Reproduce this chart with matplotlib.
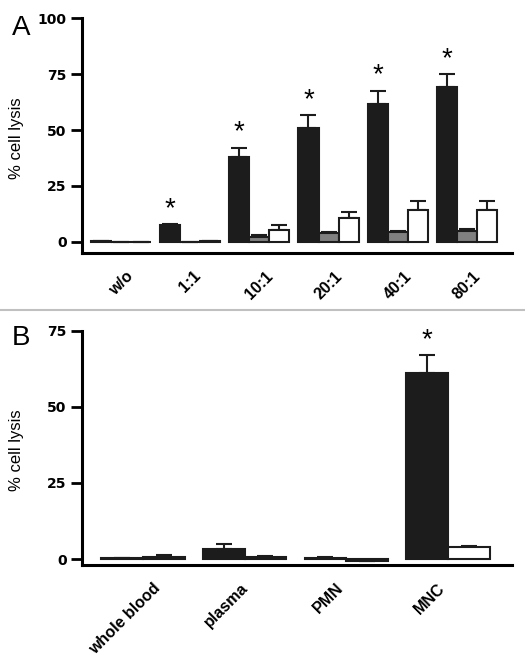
import numpy as np
import matplotlib.pyplot as plt
from matplotlib.lines import Line2D
from matplotlib.transforms import ScaledTranslation

plt.rcParams['font.family'] = ['Liberation Sans', 'DejaVu Sans']

# panel A data
ratios = ['w/o', '1:1', '10:1', '20:1', '40:1', '80:1']
black_a = [0.3, 7.5, 38, 51, 61.5, 69]
black_a_err = [0, 0.5, 4, 5.5, 6, 6]
grey_a = [0.2, 0.2, 2.3, 4, 4.5, 5]
grey_a_err = [0, 0, 0.6, 0.6, 0.6, 0.6]
white_a = [0.2, 0.3, 5.5, 10.5, 14.5, 14.5]
white_a_err = [0, 0, 2, 2.8, 3.7, 4]
star_a = [False, True, True, True, True, True]

# panel B data
sources = ['whole blood', 'plasma', 'PMN', 'MNC']
black_b = [0.3, 3.2, 0.5, 61]
black_b_err = [0.2, 1.6, 0.2, 6]
white_b = [0.8, 0.8, -0.5, 4]
white_b_err = [0.4, 0.3, 0, 0.4]
star_b = [False, False, False, True]

colors = ['#1c1c1c', '#808080', 'white']


def style_axes(ax, ticks, ylim):
    ax.set_ylim(ylim)
    ax.set_yticks(ticks)
    ax.spines['top'].set_visible(False)
    ax.spines['right'].set_visible(False)
    ax.spines['left'].set_linewidth(2.2)
    ax.spines['bottom'].set_linewidth(2.2)
    ax.spines['left'].set_bounds(ylim[0], ticks[-1])
    ax.tick_params(axis='y', length=8, width=2, direction='out', pad=3)
    ax.tick_params(axis='x', length=0, labelsize=11.5, pad=11)
    for lbl in ax.get_yticklabels():
        lbl.set_fontfamily('DejaVu Sans')
        lbl.set_fontweight('bold')
        lbl.set_fontsize(10)
    ax.set_ylabel('% cell lysis', fontsize=12)
    ax.yaxis.set_label_coords(-0.135, 0.49)


def draw_bars(ax, x, vals, errs, color, width):
    ax.bar(x, vals, width, color=color, edgecolor='#1c1c1c', linewidth=1.5, zorder=3)
    lower = np.zeros(len(vals))
    ax.errorbar(x, vals, yerr=[lower, errs], fmt='none', ecolor='#1c1c1c',
                elinewidth=1.5, capsize=6, capthick=1.5, zorder=2)


fig = plt.figure(figsize=(5.25, 6.68), dpi=100)

# ---- panel A ----
axA = fig.add_axes([0.156, 0.621, 0.819, 0.352])
xa = np.arange(len(ratios))
w = 0.29
draw_bars(axA, xa - w, black_a, black_a_err, colors[0], w)
draw_bars(axA, xa, grey_a, grey_a_err, colors[1], w)
draw_bars(axA, xa + w, white_a, white_a_err, colors[2], w)
for i, s in enumerate(star_a):
    if s:
        axA.text(xa[i] - w, black_a[i] + black_a_err[i] + 1, '*', ha='center',
                 va='bottom', fontsize=20)
axA.set_xlim(-0.565, 5.65)
style_axes(axA, [0, 25, 50, 75, 100], (-5, 100))
axA.set_xticks(xa)
axA.set_xticklabels(ratios, rotation=45, ha='center', fontweight='bold')
fig.text(0.022, 0.948, 'A', fontsize=20)

# separator line
fig.add_artist(Line2D([0, 1], [0.536, 0.536], color='#c0c0c0', linewidth=1.5))

# ---- panel B ----
axB = fig.add_axes([0.156, 0.154, 0.819, 0.351])
xb = np.arange(len(sources))
wb = 0.41
draw_bars(axB, xb - wb / 2, black_b, black_b_err, colors[0], wb)
draw_bars(axB, xb + wb / 2, white_b, white_b_err, colors[2], wb)
for i, s in enumerate(star_b):
    if s:
        axB.text(xb[i] - wb / 2, black_b[i] + black_b_err[i] + 0.5, '*', ha='center',
                 va='bottom', fontsize=20)
axB.set_xlim(-0.6, 3.63)
style_axes(axB, [0, 25, 50, 75], (-2, 75))
axB.set_xticks(xb)
axB.set_xticklabels(sources, rotation=45, ha='center', fontweight='bold')
shift = ScaledTranslation(-18 / 100, 0, fig.dpi_scale_trans)
for lbl in axB.get_xticklabels():
    lbl.set_transform(lbl.get_transform() + shift)
fig.text(0.022, 0.484, 'B', fontsize=20)

plt.savefig('out.png', dpi=100)
